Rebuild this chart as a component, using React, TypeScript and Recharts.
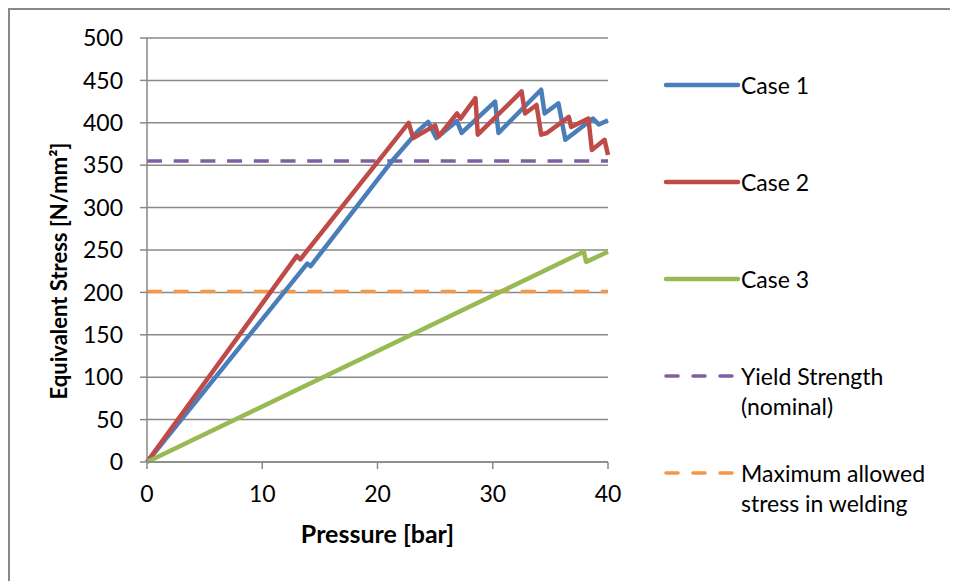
import { LineChart, Line, XAxis, YAxis, CartesianGrid, ReferenceLine, Legend } from "recharts"

const pressureTicks = [0, 10, 20, 30, 40]
const stressTicks = [0, 50, 100, 150, 200, 250, 300, 350, 400, 450, 500]

// Case 1 (blue)
const case1Pressure = [0, 13.9, 14.2, 21.2, 23.5, 24.4, 25.1, 26.9, 27.3, 30.2, 30.5, 34.2, 34.5, 35.7, 36.3, 38.7, 39.2, 40]
const case1Stress = [0, 234, 231, 354, 390, 401, 382, 402, 388, 425, 388, 439, 411, 423, 380, 405, 398, 403]

// Case 2 (red)
const case2Pressure = [0, 13.0, 13.3, 22.7, 23.1, 25.0, 25.3, 26.9, 27.2, 28.5, 28.7, 32.5, 32.8, 33.8, 34.2, 34.7, 36.6, 36.8, 38.3, 38.6, 39.7, 40]
const case2Stress = [0, 243, 239, 400, 382, 397, 384, 411, 405, 429, 386, 437, 411, 421, 386, 388, 407, 395, 405, 368, 380, 362]

// Case 3 (green)
const case3Pressure = [0, 37.9, 38.1, 40]
const case3Stress = [0, 248, 236, 248]

const yieldStrength = 355
const maxWeldingStress = 201

const toPoints = (p: number[], s: number[]) => p.map((x, i) => ({ pressure: x, stress: s[i] }))

const case1 = toPoints(case1Pressure, case1Stress)
const case2 = toPoints(case2Pressure, case2Stress)
const case3 = toPoints(case3Pressure, case3Stress)

const font = "Lato, 'DejaVu Sans', sans-serif"
const gray = "#898989"

const legendItems = [
  { lines: ["Case 1"], color: "#4a7ebb", dashed: false },
  { lines: ["Case 2"], color: "#be4b48", dashed: false },
  { lines: ["Case 3"], color: "#98b954", dashed: false },
  { lines: ["Yield Strength", "(nominal)"], color: "#7d60a0", dashed: true },
  { lines: ["Maximum allowed", "stress in welding"], color: "#f79646", dashed: true },
]

function ChartLegend() {
  return (
    <div style={{ fontFamily: font, fontSize: 23, color: "#000" }}>
      {legendItems.map((item) => (
        <div key={item.lines[0]} style={{ display: "flex", height: 97, alignItems: "flex-start" }}>
          <svg width={78} height={30} style={{ flex: "none" }}>
            <line
              x1={3}
              x2={item.dashed ? 74 : 75}
              y1={15}
              y2={15}
              stroke={item.color}
              strokeWidth={item.dashed ? 3.5 : 4.5}
              strokeLinecap="round"
              strokeDasharray={item.dashed ? "12 15" : undefined}
            />
          </svg>
          <div style={{ lineHeight: "30px", whiteSpace: "nowrap" }}>
            {item.lines.map((l) => (
              <div key={l}>{l}</div>
            ))}
          </div>
        </div>
      ))}
    </div>
  )
}

// y axis title, rotated, centred where the reference puts it
function StressTitle() {
  const x = 48
  const y = 261
  return (
    <text
      x={x}
      y={y}
      transform={`rotate(-90 ${x} ${y})`}
      textAnchor="middle"
      dominantBaseline="central"
      fill="#000"
      fontSize={22}
      fontWeight={700}
      fontFamily={font}
    >
      Equivalent Stress [N/mm²]
    </text>
  )
}

export default function App() {
  return (
    <div style={{ borderLeft: `2px solid ${gray}`, borderTop: `2px solid ${gray}`, width: 948, height: 573 }}>
      <LineChart width={940} height={571} margin={{ top: 28, right: 342, bottom: 79, left: 0 }}>
        <CartesianGrid vertical={false} stroke={gray} strokeWidth={1.5} />
        <XAxis
          dataKey="pressure"
          type="number"
          domain={[0, 40]}
          ticks={pressureTicks}
          height={40}
          stroke={gray}
          strokeWidth={1.5}
          tickSize={7}
          tickMargin={17}
          tick={{ fill: "#000", fontSize: 23, fontFamily: font }}
          allowDuplicatedCategory={false}
          label={{
            value: "Pressure [bar]",
            position: "bottom",
            offset: 23,
            style: { fill: "#000", fontSize: 25, fontWeight: 700, fontFamily: font },
          }}
        />
        <YAxis
          type="number"
          domain={[0, 500]}
          ticks={stressTicks}
          width={137}
          stroke={gray}
          strokeWidth={1.5}
          tickSize={7}
          tickMargin={17}
          tick={{ fill: "#000", fontSize: 23, fontFamily: font }}
          label={{ content: () => <StressTitle /> }}
        />
        <ReferenceLine y={yieldStrength} stroke="#7d60a0" strokeWidth={3.5} strokeDasharray="15 11.7" />
        <ReferenceLine y={maxWeldingStress} stroke="#f79646" strokeWidth={3.5} strokeDasharray="15 11.7" />
        <Line data={case1} dataKey="stress" name="Case 1" type="linear" stroke="#4a7ebb" strokeWidth={4.5} strokeLinejoin="round" dot={false} isAnimationActive={false} />
        <Line data={case2} dataKey="stress" name="Case 2" type="linear" stroke="#be4b48" strokeWidth={4.5} strokeLinejoin="round" dot={false} isAnimationActive={false} />
        <Line data={case3} dataKey="stress" name="Case 3" type="linear" stroke="#98b954" strokeWidth={4.5} strokeLinejoin="round" dot={false} isAnimationActive={false} />
        <Legend
          layout="vertical"
          align="center"
          verticalAlign="middle"
          content={() => <ChartLegend />}
          wrapperStyle={{ left: 653, top: 60, width: 260 }}
        />
      </LineChart>
    </div>
  )
}
